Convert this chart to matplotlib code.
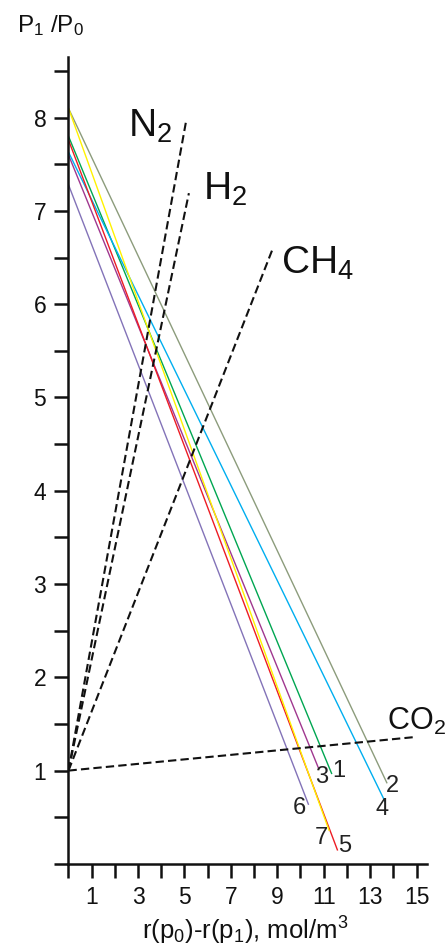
import matplotlib
matplotlib.use('Agg')
import matplotlib.pyplot as plt

plt.rcParams['font.family'] = ['Liberation Sans', 'DejaVu Sans']
plt.rcParams['mathtext.fontset'] = 'custom'
plt.rcParams['mathtext.rm'] = 'Liberation Sans'
plt.rcParams['mathtext.it'] = 'Liberation Sans'

# numbered solid lines: start at x=0, end point
series = ['1', '2', '3', '4', '5', '6', '7']
y_start = [7.80, 8.10, 7.60, 7.63, 7.76, 7.28, 8.10]
x_end = [11.34, 13.72, 10.77, 13.64, 11.59, 10.34, 11.23]
y_end = [0.97, 0.87, 1.03, 0.67, 0.15, 0.64, 0.36]
colors = ['#00a651', '#8c9c7c', '#a0378f', '#00aeef', '#ed1c24', '#8373b8', '#fff200']
lab_x = [11.67, 13.97, 10.91, 13.50, 11.89, 9.95, 10.91]
lab_y = [1.00, 0.83, 0.93, 0.585, 0.19, 0.60, 0.28]

# dashed gas lines from (0, 1)
gases = [r'N$_2$', r'H$_2$', r'CH$_4$', r'CO$_2$']
gas_x = [5.06, 5.19, 8.78, 14.94]
gas_y = [7.95, 7.19, 6.58, 1.36]
gas_lx = [2.56, 5.78, 9.16, 13.72]
gas_ly = [7.79, 7.12, 6.33, 1.44]
gas_size = [28, 28, 28, 22]

fig = plt.figure(figsize=(4.45, 9.51), dpi=100)
ax = fig.add_axes([0.1539, 0.0916, 0.805, 0.8485])

for i in range(len(series)):
    ax.plot([0, x_end[i]], [y_start[i], y_end[i]], color=colors[i], lw=1.0)
    ax.text(lab_x[i], lab_y[i], series[i], fontsize=17, ha='center', va='center', color='#222222')

for i in range(len(gases)):
    ax.plot([0, gas_x[i]], [1, gas_y[i]], color='#111111', lw=1.5, dashes=(4, 2))
    ax.text(gas_lx[i], gas_ly[i], gases[i], fontsize=gas_size[i], ha='left', va='baseline', color='#111111')

ax.set_xlim(0, 15.44)
ax.set_ylim(0, 8.65)
for s in ['top', 'right']:
    ax.spines[s].set_visible(False)
for s in ['left', 'bottom']:
    ax.spines[s].set_linewidth(1.8)
    ax.spines[s].set_color('#111111')

ax.set_xticks(range(16))
ax.set_xticklabels([str(v) if v % 2 == 1 else '' for v in range(16)])
yt = [v / 2 for v in range(18)]
ax.set_yticks(yt)
ax.set_yticklabels([str(int(v)) if v >= 1 and v == int(v) else '' for v in yt])
ax.tick_params(length=10, width=1.8, labelsize=16.5, pad=6, colors='#111111')

fig.text(17 / 445, 1 - 32 / 951, r'P$_1$ /P$_0$', fontsize=17.5, ha='left', va='baseline', color='#111111')
fig.text(142 / 445, 1 - 940 / 951, r'r(p$_0$)-r(p$_1$), mol/m$^3$', fontsize=18.5, ha='left', va='baseline', color='#111111')

fig.savefig('out.png', dpi=100)
